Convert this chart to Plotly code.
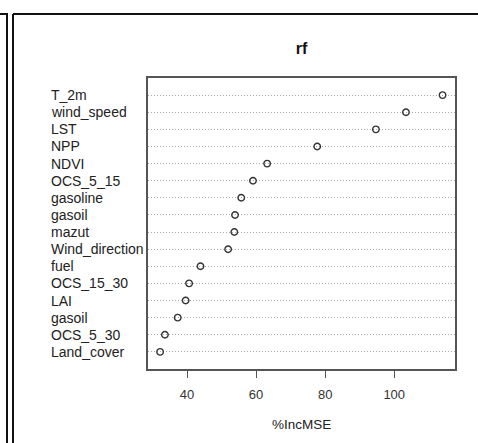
import plotly.graph_objects as go

# Variables listed top to bottom, as in the reference dot chart
variables = ["T_2m", "wind_speed", "LST", "NPP", "NDVI", "OCS_5_15", "gasoline",
             "gasoil", "mazut", "Wind_direction", "fuel", "OCS_15_30", "LAI",
             "gasoil", "OCS_5_30", "Land_cover"]
inc_mse = [114.0, 103.4, 94.7, 77.7, 63.2, 59.1, 55.7, 53.9, 53.7, 51.9,
           43.9, 40.6, 39.6, 37.3, 33.6, 32.2]
x_ticks = [40, 60, 80, 100]

W, H = 478, 443
L, R, T, B = 148, 455, 78, 369
pw, ph = R - L, B - T

n = len(variables)
ypos = [n - i for i in range(n)]

def px(x):
    return (x - L) / pw

def py(y):
    return (B - y) / ph

fig = go.Figure()
fig.add_trace(go.Scatter(
    x=inc_mse, y=ypos, mode="markers",
    marker=dict(symbol="circle-open", size=6.5, color="#333333",
                line=dict(width=1.4, color="#333333")),
    showlegend=False, hoverinfo="x+y",
))

# Left-aligned row labels (duplicated names allowed)
for lab, yv in zip(variables, ypos):
    fig.add_annotation(x=px(48.5), xref="paper", y=yv, yref="y", text=lab,
                       showarrow=False, xanchor="left", yanchor="middle",
                       font=dict(family="Liberation Sans, Arial", size=14, color="#222222"))

# x axis title
fig.add_annotation(x=0.5, xref="paper", y=py(424), yref="paper", text="%IncMSE",
                   showarrow=False, xanchor="center", yanchor="middle",
                   font=dict(family="Liberation Sans, Arial", size=13.5, color="#222222"))

# frame lines (panel borders)
frame = [
    (0, 14, 8, 14), (7, 14, 7, 443),
    (13, 14, 13, 443), (13, 14, 478, 14),
]
for x0, y0, x1, y1 in frame:
    fig.add_shape(type="line", xref="paper", yref="paper",
                  x0=px(x0), y0=py(y0), x1=px(x1), y1=py(y1),
                  line=dict(color="#111111", width=2))

fig.update_layout(
    width=W, height=H,
    margin=dict(l=L, r=W - R, t=T, b=H - B),
    paper_bgcolor="white", plot_bgcolor="white",
    title=dict(text="<b>rf</b>", x=0.5, xref="paper", xanchor="center",
               y=1 - 48 / H, yref="container", yanchor="middle",
               font=dict(family="Liberation Sans, Arial", size=16, color="#111111")),
    xaxis=dict(range=[28.7, 117.6], tickvals=x_ticks, ticks="outside", ticklen=7,
               tickcolor="#555555", tickwidth=1.3, showgrid=False, zeroline=False,
               showline=True, mirror=True, linecolor="#555555", linewidth=1.5,
               ticklabelstandoff=6,
               tickfont=dict(family="Liberation Sans, Arial", size=13, color="#333333")),
    yaxis=dict(range=[0, n + 1], tickvals=ypos, showticklabels=False, ticks="",
               showgrid=True, gridcolor="#aaaaaa", griddash="1px,2px", gridwidth=1,
               zeroline=False, showline=True, mirror=True, linecolor="#555555",
               linewidth=1.5),
)

fig.write_html("out.html", config={"displayModeBar": False},
               post_script="document.body.style.margin='0';")
